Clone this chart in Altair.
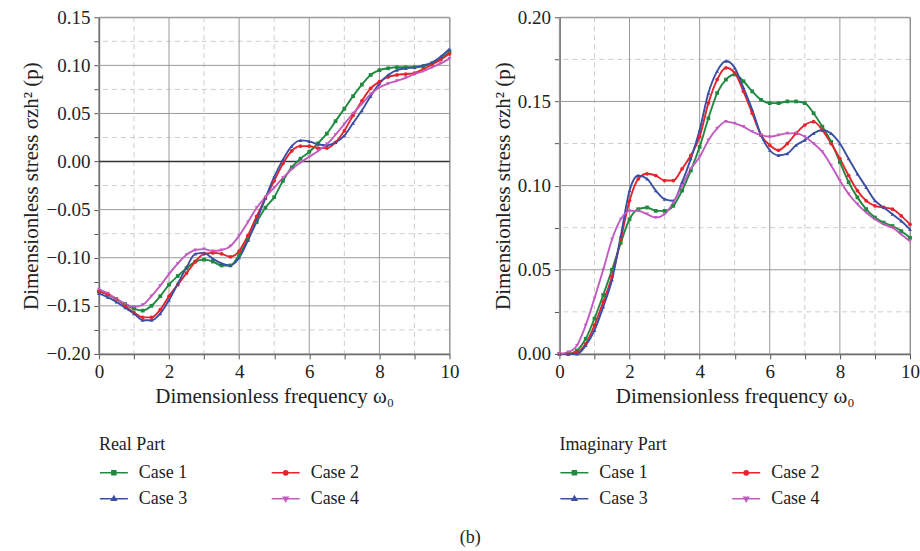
import altair as alt
import pandas as pd

freq = [0.0, 0.25, 0.5, 0.75, 1.0, 1.25, 1.5, 1.75, 2.0, 2.25, 2.5, 2.75, 3.0, 3.25,
        3.5, 3.75, 4.0, 4.25, 4.5, 4.75, 5.0, 5.25, 5.5, 5.75, 6.0, 6.25, 6.5, 6.75,
        7.0, 7.25, 7.5, 7.75, 8.0, 8.25, 8.5, 8.75, 9.0, 9.25, 9.5, 9.75, 10.0]

# Real part
real_case1 = [-0.135, -0.138, -0.143, -0.148, -0.153, -0.155, -0.150, -0.140, -0.128, -0.119,
              -0.111, -0.104, -0.102, -0.104, -0.108, -0.108, -0.097, -0.081, -0.063, -0.048,
              -0.037, -0.020, -0.006, 0.003, 0.010, 0.019, 0.029, 0.042, 0.055, 0.068,
              0.080, 0.090, 0.095, 0.097, 0.098, 0.098, 0.098, 0.099, 0.102, 0.107, 0.114]
real_case2 = [-0.135, -0.138, -0.143, -0.150, -0.157, -0.162, -0.162, -0.154, -0.140, -0.128,
              -0.116, -0.104, -0.096, -0.095, -0.096, -0.099, -0.093, -0.077, -0.057, -0.038,
              -0.020, -0.002, 0.011, 0.016, 0.016, 0.014, 0.014, 0.020, 0.032, 0.048,
              0.063, 0.076, 0.083, 0.088, 0.090, 0.091, 0.092, 0.096, 0.101, 0.106, 0.112]
real_case3 = [-0.137, -0.141, -0.146, -0.152, -0.158, -0.165, -0.165, -0.158, -0.144, -0.127,
              -0.110, -0.096, -0.095, -0.101, -0.106, -0.108, -0.100, -0.082, -0.061, -0.038,
              -0.016, 0.002, 0.016, 0.022, 0.021, 0.018, 0.017, 0.020, 0.027, 0.040,
              0.053, 0.068, 0.081, 0.090, 0.095, 0.097, 0.098, 0.100, 0.103, 0.109, 0.117]
real_case4 = [-0.133, -0.137, -0.143, -0.148, -0.151, -0.149, -0.140, -0.129, -0.117, -0.106,
              -0.097, -0.092, -0.091, -0.093, -0.092, -0.088, -0.077, -0.063, -0.048, -0.037,
              -0.027, -0.017, -0.008, -0.001, 0.005, 0.011, 0.018, 0.028, 0.039, 0.050,
              0.060, 0.070, 0.077, 0.081, 0.084, 0.087, 0.091, 0.094, 0.098, 0.102, 0.107]

# Imaginary part
imag_case1 = [0.000, 0.000, 0.002, 0.009, 0.021, 0.035, 0.050, 0.066, 0.080, 0.086,
              0.087, 0.085, 0.085, 0.088, 0.097, 0.109, 0.123, 0.140, 0.155, 0.163,
              0.166, 0.162, 0.156, 0.151, 0.149, 0.149, 0.150, 0.150, 0.149, 0.143,
              0.135, 0.126, 0.114, 0.102, 0.093, 0.086, 0.081, 0.078, 0.076, 0.073, 0.069]
imag_case2 = [0.000, 0.000, 0.001, 0.006, 0.017, 0.031, 0.046, 0.068, 0.091, 0.104,
              0.107, 0.106, 0.103, 0.103, 0.110, 0.118, 0.129, 0.149, 0.163, 0.170,
              0.167, 0.156, 0.143, 0.130, 0.124, 0.121, 0.125, 0.131, 0.136, 0.138,
              0.133, 0.125, 0.116, 0.106, 0.097, 0.091, 0.088, 0.087, 0.086, 0.082, 0.077]
imag_case3 = [0.000, 0.000, 0.000, 0.005, 0.014, 0.028, 0.044, 0.070, 0.097, 0.106,
              0.104, 0.097, 0.092, 0.091, 0.102, 0.116, 0.133, 0.155, 0.168, 0.174,
              0.170, 0.158, 0.145, 0.130, 0.121, 0.118, 0.119, 0.124, 0.127, 0.131,
              0.133, 0.131, 0.125, 0.116, 0.107, 0.099, 0.091, 0.087, 0.083, 0.079, 0.074]
imag_case4 = [0.000, 0.001, 0.005, 0.017, 0.033, 0.050, 0.068, 0.080, 0.085, 0.085,
              0.083, 0.081, 0.083, 0.090, 0.100, 0.110, 0.117, 0.127, 0.134, 0.138,
              0.137, 0.135, 0.132, 0.130, 0.129, 0.130, 0.131, 0.131, 0.129, 0.125,
              0.120, 0.112, 0.103, 0.095, 0.089, 0.084, 0.080, 0.077, 0.075, 0.071, 0.067]

cases = ["Case 1", "Case 2", "Case 3", "Case 4"]
colors = ["#1f8a3f", "#e8232b", "#3b4ea6", "#c25cc0"]
shapes = ["square", "circle", "triangle-up", "triangle-down"]
legend_paths = [
    "M-1,0H1M-0.14,-0.14H0.14V0.14H-0.14Z",
    "M-1,0H1M0.15,0A0.15,0.15 0 1,1 -0.15,0A0.15,0.15 0 1,1 0.15,0Z",
    "M-1,0H1M0,-0.18L0.16,0.1H-0.16Z",
    "M-1,0H1M0,0.18L0.16,-0.1H-0.16Z",
]

x_ticks = [0, 1, 2, 3, 4, 5, 6, 7, 8, 9, 10]
x_major = [0, 2, 4, 6, 8, 10]
x_minor = [1, 3, 5, 7, 9]
real_ticks = [-0.2, -0.175, -0.15, -0.125, -0.1, -0.075, -0.05, -0.025, 0.0,
              0.025, 0.05, 0.075, 0.1, 0.125, 0.15]
real_major = [-0.2, -0.15, -0.1, -0.05, 0.05, 0.1, 0.15]
real_zero = [0.0]
real_minor = [-0.175, -0.125, -0.075, -0.025, 0.025, 0.075, 0.125]
imag_ticks = [0.0, 0.025, 0.05, 0.075, 0.1, 0.125, 0.15, 0.175, 0.2]
imag_major = [0.0, 0.05, 0.1, 0.15, 0.2]
imag_minor = [0.025, 0.075, 0.125, 0.175]

SERIF = "Liberation Serif"
MAJOR = "#9a9a9a"
MINOR = "#cdcdcd"


def frame(series):
    rows = []
    for case, ys in zip(cases, series):
        for x, y in zip(freq, ys):
            rows.append({"freq": x, "value": y, "case": case})
    return pd.DataFrame(rows)


minor_x = "datum.value % 2 != 0"
minor_y = "abs(datum.value * 20 - round(datum.value * 20)) > 0.1"


def panel(series, ticks, domain, y_major, y_minor, y_dark, title):
    df = frame(series)
    x_enc = alt.X(
        "freq:Q",
        scale=alt.Scale(domain=[0, 10], nice=False),
        axis=alt.Axis(
            values=x_ticks,
            grid=False,
            title="Dimensionless frequency ω₀",
            labelExpr="(" + minor_x + ") ? '' : format(datum.value, 'd')",
        ),
    )
    y_enc = alt.Y(
        "value:Q",
        scale=alt.Scale(domain=domain, nice=False, zero=False),
        axis=alt.Axis(
            values=ticks,
            grid=False,
            title="Dimensionless stress σzh² (p)",
            labelExpr="(" + minor_y + ") ? '' : replace(format(datum.value, '.2f'), '-', '\u2212')",
        ),
    )
    legend = alt.Legend(
        title=title,
        orient="none",
        legendX=0,
        legendY=419,
        columns=2,
        direction="horizontal",
        columnPadding=80,
        rowPadding=2,
        symbolSize=784,
        symbolStrokeWidth=1.6,
        symbolOpacity=1,
        labelOffset=10,
        titlePadding=4,
    )
    color_enc = alt.Color("case:N", scale=alt.Scale(domain=cases, range=colors), legend=legend)

    layers = []
    layers.append(alt.Chart(pd.DataFrame({"freq": x_minor})).mark_rule(
        color=MINOR, strokeDash=[5, 4], strokeWidth=1).encode(x=x_enc))
    layers.append(alt.Chart(pd.DataFrame({"value": y_minor})).mark_rule(
        color=MINOR, strokeDash=[5, 4], strokeWidth=1).encode(y=y_enc))
    layers.append(alt.Chart(pd.DataFrame({"freq": x_major})).mark_rule(
        color=MAJOR, strokeWidth=1).encode(x=x_enc))
    layers.append(alt.Chart(pd.DataFrame({"value": y_major})).mark_rule(
        color=MAJOR, strokeWidth=1).encode(y=y_enc))
    if y_dark:
        layers.append(alt.Chart(pd.DataFrame({"value": y_dark})).mark_rule(
            color="#333333", strokeWidth=1.4).encode(y=y_enc))

    layers.append(alt.Chart(df).mark_line(strokeWidth=1.9, interpolate="monotone").encode(
        x=x_enc, y=y_enc, color=color_enc))
    for case, shp in zip(cases, shapes):
        layers.append(
            alt.Chart(df).transform_filter(alt.datum.case == case)
            .mark_point(filled=True, size=14, opacity=1, shape=shp)
            .encode(x=x_enc, y=y_enc, color=color_enc)
        )
    layers.append(
        alt.Chart(df).mark_point(filled=False, opacity=0, strokeWidth=1.6).encode(
            x=x_enc, y=y_enc, color=color_enc,
            shape=alt.Shape("case:N", scale=alt.Scale(domain=cases, range=legend_paths), legend=legend),
        )
    )
    return alt.layer(*layers).properties(width=351, height=337)


left = panel([real_case1, real_case2, real_case3, real_case4], real_ticks, [-0.2, 0.15],
             real_major, real_minor, real_zero, "Real Part")
right = panel([imag_case1, imag_case2, imag_case3, imag_case4], imag_ticks, [0.0, 0.2],
              imag_major, imag_minor, None, "Imaginary Part")

chart = (
    alt.hconcat(left, right, spacing=32)
    .resolve_scale(color="independent", shape="independent")
    .resolve_legend(color="independent", shape="independent")
    .properties(
        title=alt.TitleParams("(b)", orient="bottom", anchor="middle", font=SERIF,
                              fontSize=18, fontWeight="normal", color="#222222", offset=21),
        padding={"left": 20, "top": 7, "right": 0, "bottom": 4},
    )
    .configure_view(stroke="#8a8a8a", strokeWidth=1)
    .configure_axis(
        labelFont=SERIF,
        labelFontSize=19,
        labelColor="#222222",
        titleFont=SERIF,
        titleFontSize=21,
        titleFontWeight="normal",
        titleColor="#222222",
        domainColor="#555555",
        domainWidth=1.5,
        tickColor="#555555",
        tickSize=5,
        labelPadding=4,
        labelOverlap=False,
        labelFlush=False,
    )
    .configure_legend(
        labelFont=SERIF,
        labelFontSize=18,
        labelColor="#222222",
        titleFont=SERIF,
        titleFontSize=18,
        titleFontWeight="normal",
        titleColor="#222222",
    )
)

chart.save("out.html", embed_options={"renderer": "svg", "actions": False})
